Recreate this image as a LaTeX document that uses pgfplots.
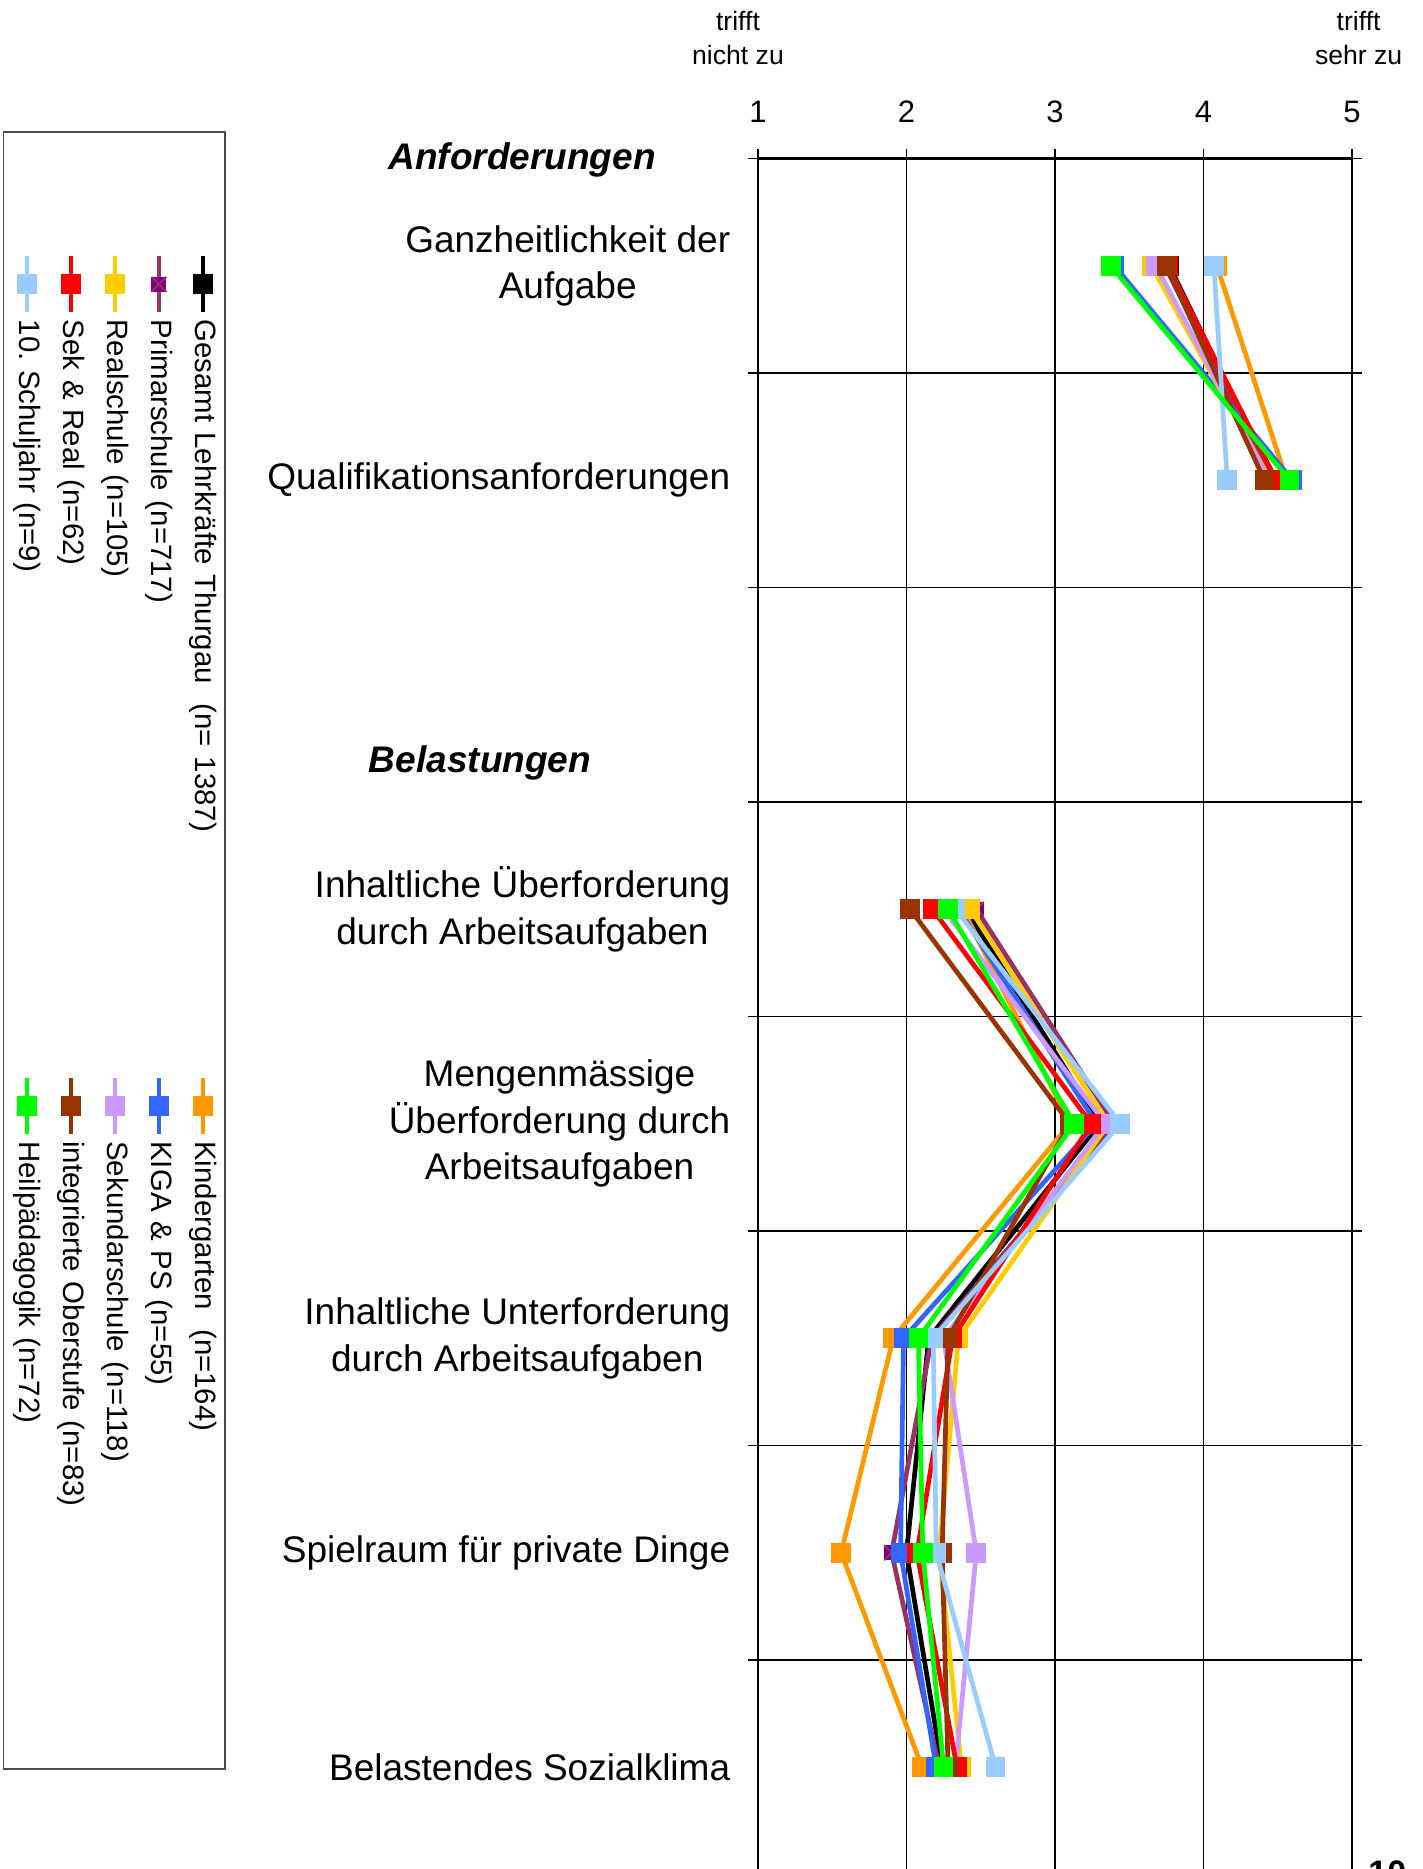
\documentclass[border=0pt]{standalone}
\usepackage{fontspec}
\setmainfont{Liberation Sans}
\usepackage{pgfplots}
\pgfplotsset{compat=1.18}
\usepackage{pgfplotstable}

\definecolor{cGes}{HTML}{000000}
\definecolor{cPriL}{HTML}{993366}
\definecolor{cPriF}{HTML}{800080}
\definecolor{cReal}{HTML}{FFCC00}
\definecolor{cSR}{HTML}{FF0000}
\definecolor{cZehn}{HTML}{99CCFF}
\definecolor{cKG}{HTML}{FF9900}
\definecolor{cKP}{HTML}{3366FF}
\definecolor{cSek}{HTML}{CC99FF}
\definecolor{cInt}{HTML}{993300}
\definecolor{cHeil}{HTML}{00FF00}

\pgfdeclareplotmark{sqx}{%
  \pgfpathrectangle{\pgfpoint{-\pgfplotmarksize}{-\pgfplotmarksize}}{\pgfpoint{2\pgfplotmarksize}{2\pgfplotmarksize}}%
  \pgfusepathqfill
  \pgfpathmoveto{\pgfpoint{-\pgfplotmarksize}{-\pgfplotmarksize}}%
  \pgfpathlineto{\pgfpoint{\pgfplotmarksize}{\pgfplotmarksize}}%
  \pgfpathmoveto{\pgfpoint{-\pgfplotmarksize}{\pgfplotmarksize}}%
  \pgfpathlineto{\pgfpoint{\pgfplotmarksize}{-\pgfplotmarksize}}%
  \pgfusepathqstroke}

% rows: 1 Ganzheitlichkeit, 2 Qualifikation, 4 Inh. Ueberforderung, 5 Mengen, 6 Unterforderung, 7 Spielraum, 8 Sozialklima
\pgfplotstableread{
row  ges   pri   real  sr    zehn  kg    kp    sek   int   heil
1    3.77  3.74  3.65  3.76  4.07  4.09  3.40  3.68  3.75  3.375
2    4.47  4.46  4.45  4.49  4.16  4.56  4.60  4.44  4.41  4.58
3    nan   nan   nan   nan   nan   nan   nan   nan   nan   nan
4    2.40  2.47  2.43  2.175 2.33  2.38  2.35  2.25  2.025 2.28
5    3.30  3.40  3.36  3.245 3.44  3.10  3.28  3.34  3.10  3.13
6    2.15  2.17  2.35  2.31  2.18  1.91  1.98  2.25  2.28  2.08
7    2.00  1.90  2.22  2.07  2.20  1.56  1.96  2.47  2.24  2.11
8    2.24  2.22  2.37  2.34  2.60  2.105 2.20  2.33  2.28  2.25
}\datatable

\newcommand{\catfont}{\fontsize{18.5}{23.2}\selectfont}

\begin{document}
\begin{tikzpicture}
\useasboundingbox (0pt,0pt) rectangle (711.5pt,-934.5pt);

\begin{axis}[
  at={(379pt,-79.25pt)}, anchor=north west,
  scale only axis, width=297pt, height=868.7pt,
  xmin=1, xmax=5, ymin=0.5, ymax=8.6, y dir=reverse,
  xtick={1,2,3,4,5}, xticklabel pos=upper,
  ytick={0.5,1.5,...,8.5}, yticklabels={},
  xmajorgrids, ymajorgrids,
  tick align=outside, major tick length=5pt,
  axis line style={line width=1.1pt, black},
  grid style={line width=0.7pt, black},
  every tick/.style={black, line width=0.8pt},
  xticklabel style={font=\fontsize{15.5}{18}\selectfont, yshift=9.5pt},
  /pgf/number format/assume math mode=true,
  clip=false,
  unbounded coords=jump,
  every axis plot/.append style={line width=2.35pt, mark size=3.75pt},
  legend image code/.code={\draw[mark repeat=2,mark phase=2,#1] plot coordinates {(0pt,0pt) (14pt,0pt) (28pt,0pt)};},
  legend columns=2,
  legend to name=grpleg,
  legend style={draw=none, fill=none,
    inner sep=0pt, row sep=8pt,
    font=\fontsize{14.7}{17}\selectfont,
    nodes={inner xsep=2.5pt, inner ysep=0pt, text height=10.5pt, text depth=3.5pt, text width=375.5pt, align=left},
  },
]
% data series (drawing order as in the original; legend fills row by row in two columns)
\addplot[color=cGes, mark=square*, mark options={solid, fill=cGes, draw=none}] table[x=ges, y=row] {\datatable};
\addlegendentry{Gesamt Lehrkräfte Thurgau\ \ (n= 1387)}
\addplot[color=cKG, mark=square*, mark options={solid, fill=cKG, draw=none}] table[x=kg, y=row] {\datatable};
\addlegendentry{Kindergarten\ \ (n=164)}
\addplot[color=cPriL, mark=sqx, mark options={solid, fill=cPriF, draw=cPriL, line width=0.8pt}] table[x=pri, y=row] {\datatable};
\addlegendentry{Primarschule (n=717)}
\addplot[color=cKP, mark=square*, mark options={solid, fill=cKP, draw=none}] table[x=kp, y=row] {\datatable};
\addlegendentry{KIGA \& PS (n=55)}
\addplot[color=cReal, mark=square*, mark options={solid, fill=cReal, draw=none}] table[x=real, y=row] {\datatable};
\addlegendentry{Realschule (n=105)}
\addplot[color=cSek, mark=square*, mark options={solid, fill=cSek, draw=none}] table[x=sek, y=row] {\datatable};
\addlegendentry{Sekundarschule (n=118)}
\addplot[color=cSR, mark=square*, mark options={solid, fill=cSR, draw=none}] table[x=sr, y=row] {\datatable};
\addlegendentry{Sek \& Real (n=62)}
\addplot[color=cInt, mark=square*, mark options={solid, fill=cInt, draw=none}] table[x=int, y=row] {\datatable};
\addlegendentry{integrierte Oberstufe (n=83)}
\addplot[color=cZehn, mark=square*, mark options={solid, fill=cZehn, draw=none}] table[x=zehn, y=row] {\datatable};
\addlegendentry{10.\ Schuljahr (n=9)}
\addplot[color=cHeil, mark=square*, mark options={solid, fill=cHeil, draw=none}] table[x=heil, y=row] {\datatable};
\addlegendentry{Heilpädagogik (n=72)}

% category labels
\begin{scope}[every node/.style={anchor=east, xshift=-13.7pt, inner sep=0pt, align=center, font=\catfont}]
\node at (axis cs:1,1) {Ganzheitlichkeit der\\Aufgabe};
\node at (axis cs:1,2) {Qualifikationsanforderungen};
\node at (axis cs:1,4) {Inhaltliche Überforderung\\durch Arbeitsaufgaben};
\node at (axis cs:1,5) {Mengenmässige\\Überforderung durch\\Arbeitsaufgaben};
\node at (axis cs:1,6) {Inhaltliche Unterforderung\\durch Arbeitsaufgaben};
\node at (axis cs:1,7) {Spielraum für private Dinge};
\node at (axis cs:1,8) {Belastendes Sozialklima};
\end{scope}
\end{axis}

% rotated legend
\node[rotate=-90, anchor=north west, inner sep=0pt] at (108.7pt,-126.8pt) {\pgfplotslegendfromname{grpleg}};

% headers
\node[font=\catfont\bfseries\itshape, inner sep=0pt] at (261pt,-79.8pt) {Anforderungen};
\node[font=\catfont\bfseries\itshape, inner sep=0pt] at (240pt,-381.4pt) {Belastungen};

% scale descriptions
\node[font=\fontsize{13.3}{17}\selectfont, align=center, inner sep=0pt] at (369pt,-19pt) {trifft\\nicht zu};
\node[font=\fontsize{13.3}{17}\selectfont, align=center, inner sep=0pt] at (679.3pt,-19pt) {trifft\\sehr zu};

% legend frame
\draw[line width=0.6pt, black!70] (1.8pt,-66pt) rectangle (112.5pt,-884.5pt);

% page number (cut)
\node[font=\fontsize{17}{20}\selectfont\bfseries, anchor=north west, inner sep=0pt] at (684pt,-930pt) {10};
\end{tikzpicture}
\end{document}
